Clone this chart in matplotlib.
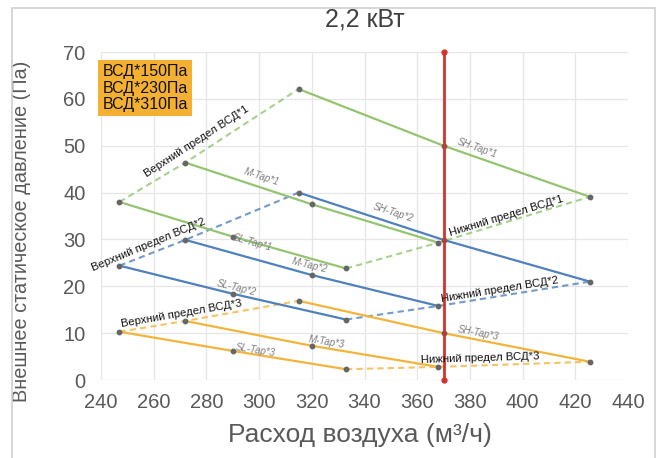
import numpy as np
import matplotlib
matplotlib.use('Agg')
import matplotlib.pyplot as plt
from matplotlib.patches import Rectangle

plt.rcParams['font.family'] = ['Liberation Sans', 'DejaVu Sans']

# air flow (m3/h) of the three points on each tap curve
flow_sl = [247, 290, 333]
flow_m = [272, 320, 368]
flow_sh = [315, 370, 425.5]

# static pressure (Pa) per ESP setting
p_sl1 = [38.0, 30.6, 23.8]
p_m1 = [46.4, 37.5, 29.3]
p_sh1 = [62.1, 50.0, 39.1]

p_sl2 = [24.4, 18.4, 12.9]
p_m2 = [29.9, 22.4, 15.8]
p_sh2 = [40.0, 29.9, 21.0]

p_sl3 = [10.3, 6.2, 2.3]
p_m3 = [12.6, 7.3, 2.8]
p_sh3 = [16.9, 10.0, 3.9]

rated_flow = 370
legend_lines = ['ВСД*150Па', 'ВСД*230Па', 'ВСД*310Па']

colors = ['#93c571', '#4f81bd', '#f2b53c']
series = [(p_sl1, p_m1, p_sh1), (p_sl2, p_m2, p_sh2), (p_sl3, p_m3, p_sh3)]

W, H = 668, 458
fig = plt.figure(figsize=(W/100, H/100), dpi=100)
ax = fig.add_axes([101/W, 1-380/H, (628-101)/W, (380-52)/H])
ax.set_xlim(240, 440)
ax.set_ylim(0, 70)
ax.set_xticks(np.arange(240, 441, 20))
ax.set_yticks(np.arange(0, 71, 10))
ax.grid(True, color='#e6e6e6', lw=0.9)
ax.set_axisbelow(True)
for s in ax.spines.values():
    s.set_visible(False)
ax.tick_params(length=0, labelsize=14.5, labelcolor='#595959')
ax.tick_params(axis='x', pad=9)
ax.tick_params(axis='y', pad=11)

fig.add_artist(Rectangle((12/W, -0.02), (655-12)/W, 1-8/H+0.02, transform=fig.transFigure,
                         fill=False, ec='#cfcfcf', lw=1.2))

def angle(x0, y0, x1, y1):
    a = ax.transData.transform([(x0, y0), (x1, y1)])
    return np.degrees(np.arctan2(a[1, 1]-a[0, 1], a[1, 0]-a[0, 0]))

for col, (sl, m, sh) in zip(colors, series):
    up_x = [flow_sl[0], flow_m[0], flow_sh[0]]
    up_y = [sl[0], m[0], sh[0]]
    lo_x = [flow_sl[-1], flow_m[-1], flow_sh[-1]]
    lo_y = [sl[-1], m[-1], sh[-1]]
    ax.plot(up_x, up_y, color=col, lw=1.5, ls=(0, (3, 2)), alpha=0.8, zorder=2)
    ax.plot(lo_x, lo_y, color=col, lw=1.5, ls=(0, (3, 2)), alpha=0.8, zorder=2)
    for fx, py in [(flow_sl, sl), (flow_m, m), (flow_sh, sh)]:
        ax.plot(fx, py, color=col, lw=1.6, zorder=3)
        ax.plot(fx, py, ls='none', marker='o', ms=3.2, color='#666666', zorder=4)

# rated flow line
ax.plot([rated_flow, rated_flow], [0, 70], color='#d8312c', lw=2, marker='o', ms=3.5, zorder=5,
        clip_on=False)

# tap labels
tap_kw = dict(fontsize=7, color='#7f7f7f', style='italic', ha='center', va='center',
              rotation_mode='anchor', zorder=6)
tap_labels = [
    ('SH-Tap*1', 382.6, 49.4, flow_sh[1:], p_sh1[1:]),
    ('M-Tap*1', 301, 43.4, flow_m[:2], p_m1[:2]),
    ('SH-Tap*2', 351, 35.6, flow_sh[:2], p_sh2[:2]),
    ('SL-Tap*1', 297.5, 29.3, flow_sl[1:], p_sl1[1:]),
    ('M-Tap*2', 319.3, 24.5, flow_m[1:], p_m2[1:]),
    ('SL-Tap*2', 291.5, 19.6, flow_sl[:2], p_sl2[:2]),
    ('M-Tap*3', 325.6, 8.2, flow_m[1:], p_m3[1:]),
    ('SL-Tap*3', 298.5, 6.3, flow_sl[1:], p_sl3[1:]),
    ('SH-Tap*3', 383.2, 10.0, flow_sh[1:], p_sh3[1:]),
]
for t, x, y, fx, py in tap_labels:
    ax.text(x, y, t, rotation=angle(fx[0], py[0], fx[1], py[1]), **tap_kw)

# limit labels
lim_kw = dict(fontsize=8.2, color='#111111', ha='center', va='center', rotation_mode='anchor', zorder=6)
lim_labels = [
    ('Верхний предел ВСД*1', 276.3, 50.9, (flow_m[0], p_m1[0], flow_sh[0], p_sh1[0])),
    ('Верхний предел ВСД*2', 258.0, 28.8, (flow_m[0], p_m2[0], flow_sh[0], p_sh2[0])),
    ('Верхний предел ВСД*3', 270.6, 14.2, (flow_sl[0], p_sl3[0], flow_sh[0], p_sh3[0])),
    ('Нижний предел ВСД*1', 394.0, 34.9, (flow_m[2], p_m1[2], flow_sh[2], p_sh1[2])),
    ('Нижний предел ВСД*2', 391.4, 19.2, (flow_m[2], p_m2[2], flow_sh[2], p_sh2[2])),
    ('Нижний предел ВСД*3', 383.8, 4.6, (flow_sl[2], p_sl3[2], flow_sh[2], p_sh3[2])),
]
for t, x, y, seg in lim_labels:
    ax.text(x, y, t, rotation=angle(*seg), **lim_kw)

ax.set_xlabel('Расход воздуха (м³/ч)', fontsize=19, color='#595959')
ax.xaxis.set_label_coords((360-101)/527, (380-423)/328)
ax.set_ylabel('Внешнее статическое давление (Па)', fontsize=14.3, color='#595959')
ax.yaxis.set_label_coords((31-101)/527, (380-231)/328)
fig.text(365/W, 1-19/H, '2,2 кВт', fontsize=18, color='#404040', ha='center', va='center')

fig.text(145/W, 1-88/H, '\n'.join(legend_lines), fontsize=11.5, color='#111111', ha='center',
         va='center', linespacing=1.1,
         bbox=dict(boxstyle='square,pad=0.25', fc='#f4b032', ec='none'))

fig.savefig('out.png', dpi=100)
